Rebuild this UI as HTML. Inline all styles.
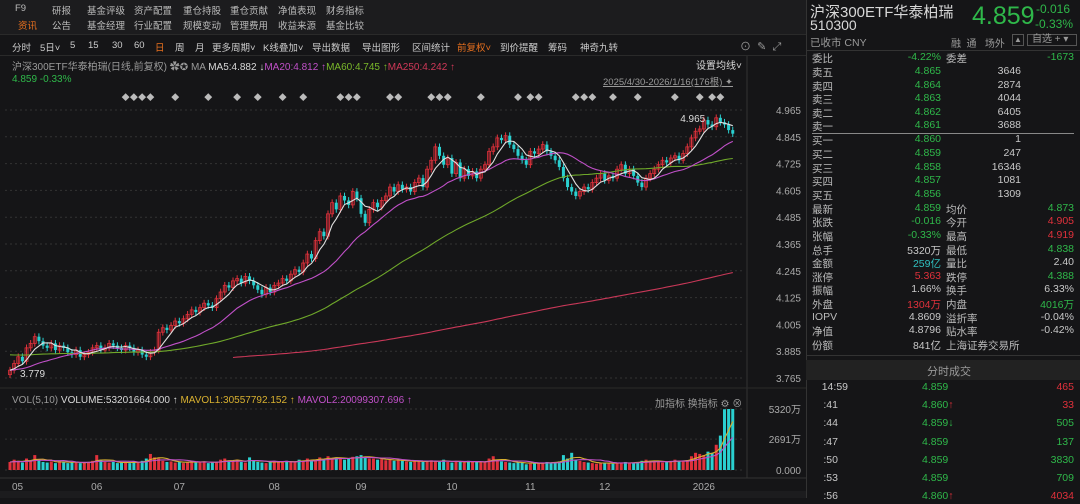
<!DOCTYPE html>
<html><head><meta charset="utf-8">
<style>
*{margin:0;padding:0;box-sizing:border-box}
body{width:1080px;height:498px;background:#151517;overflow:hidden;position:relative;font-family:"Liberation Sans","Noto Sans CJK SC",sans-serif;color:#c8c8c8;font-size:10px}
.a{position:absolute;white-space:nowrap}
.g{color:#2fb84a}.r{color:#e0313b}.w{color:#d8d8d8}.gr{color:#9a9a9a}.o{color:#e8701e}
.row{position:absolute;left:812px;width:262px;height:14px;font-size:10.5px}
.row span{position:absolute}
.m{position:absolute;font-size:9.5px;color:#bbb;white-space:nowrap}
</style></head><body>
<div class="a" style="left:0;top:0;width:806px;height:34px;background:#1c1c1e"></div>
<div id="menus"></div>
<div class="a" style="left:0;top:34px;width:806px;height:1px;background:#2a2a2a"></div>
<div id="toolbar"></div>
<div class="a gr" style="left:740px;top:38px;font-size:11px">⊙&nbsp; ✎&nbsp; ⤢</div>
<div class="a" style="left:0;top:55px;width:806px;height:1px;background:#2a2a2a"></div>
<div class="a" style="left:12px;top:58px;font-size:10px"><span class="gr">沪深300ETF华泰柏瑞(日线,前复权)</span> <span class="gr">✿✪ MA</span> <span class="w">MA5:4.882 ↓</span><span style="color:#c050c8">MA20:4.812 ↑</span><span style="color:#7ab82a">MA60:4.745 ↑</span><span style="color:#d03858">MA250:4.242 ↑</span></div>
<div class="a w" style="left:696px;top:57px;font-size:10px">设置均线˅</div>
<div class="a g" style="left:12px;top:74px;font-size:10px">4.859 -0.33%</div>
<div class="a gr" style="left:603px;top:74px;font-size:9.5px;text-decoration:underline">2025/4/30-2026/1/16(176根) ✦</div>

<svg class="a" id="chart" style="left:0;top:0" width="806" height="498"></svg>

<div class="a" style="left:12px;top:395px;font-size:10px"><span class="gr">VOL(5,10)</span> <span class="w">VOLUME:53201664.000 ↑</span> <span style="color:#d8b030">MAVOL1:30557792.152 ↑</span> <span style="color:#c050c8">MAVOL2:20099307.696 ↑</span></div>
<div class="a gr" style="left:655px;top:395px;font-size:10px">加指标 换指标 ⚙ ⊗</div>
<div class="a" style="left:0;top:491px;width:806px;height:7px;background:#1c1c1e"></div>

<!-- right panel -->
<div class="a" style="left:806px;top:0;width:1px;height:498px;background:#333"></div>
<div class="a w" style="left:810px;top:1px;font-size:15px">沪深300ETF华泰柏瑞</div>
<div class="a w" style="left:810px;top:17px;font-size:14px">510300</div>
<div class="a gr" style="left:810px;top:35px;font-size:10.5px">已收市 CNY</div>
<div class="a g" style="left:972px;top:2px;font-size:25px">4.859</div>
<div class="a g" style="left:1036px;top:2px;font-size:12px">-0.016</div>
<div class="a g" style="left:1035px;top:17px;font-size:12px">-0.33%</div>
<div class="a gr" style="left:951px;top:35px;font-size:10px">融&nbsp; 通&nbsp;&nbsp; 场外</div>
<div class="a gr" style="left:1012px;top:34px;width:12px;height:12px;border:1px solid #555;font-size:8px;text-align:center">▲</div>
<div class="a gr" style="left:1027px;top:34px;width:50px;height:12px;border:1px solid #555;font-size:10px;line-height:10px;padding-left:4px">自选 + ▾</div>
<div class="a" style="left:806px;top:50px;width:274px;height:1px;background:#333"></div>
<div class="a" style="left:812px;top:133px;width:262px;height:1px;background:#888"></div>
<div class="a" style="left:806px;top:355px;width:274px;height:1px;background:#333"></div>
<div class="a" style="left:806px;top:360px;width:274px;height:20px;background:#222"></div>
<div class="a gr" style="left:927px;top:363px;font-size:11px">分时成交</div>
<div id="quote"></div>
<script>
// ---------- menus ----------
const menu1=[["F9",15],["研报",52],["基金评级",87],["资产配置",134],["重仓持股",183],["重仓贡献",230],["净值表现",278],["财务指标",326]];
const menu2=[["资讯",18],["公告",52],["基金经理",87],["行业配置",134],["规模变动",183],["管理费用",230],["收益来源",278],["基金比较",326]];
const mEl=document.getElementById('menus');
function addM(list,top){list.forEach((m,k)=>{const d=document.createElement('div');d.className='m';d.style.left=m[1]+'px';d.style.top=top+'px';d.textContent=m[0];
  if(m[0]=="资讯")d.style.color="#e8701e";
  
  
  mEl.appendChild(d);});}
addM(menu1,3);addM(menu2,18);
const tools=[["分时",12],["5日˅",40],["5",70],["15",88],["30",112],["60",134],["日",155],["周",175],["月",195],["更多周期˅",212],["K线叠加˅",263],["导出数据",312],["导出图形",362],["区间统计",412],["前复权˅",457],["到价提醒",500],["筹码",548],["神奇九转",580]];
tools.forEach(t=>{const d=document.createElement('div');d.className='m';d.style.left=t[1]+'px';d.style.top='40px';d.style.color=(t[0]=="日"||t[0]=="前复权˅")?"#e8701e":"#ccc";d.textContent=t[0];
  
  
  mEl.appendChild(d);});
// ---------- quote panel ----------
const quoteRows=[
["委比","-4.22%","g","委差","-1673","g",58],
["卖五","4.865","g","3646","","",72],["卖四","4.864","g","2874","","",86],["卖三","4.863","g","4044","","",99],
["卖二","4.862","g","6405","","",113],["卖一","4.861","g","3688","","",126],
["买一","4.860","g","1","","",140],["买二","4.859","g","247","","",154],["买三","4.858","g","16346","","",168],
["买四","4.857","g","1081","","",181],["买五","4.856","g","1309","","",195],
["最新","4.859","g","均价","4.873","g",209],["张跌","-0.016","g","今开","4.905","r",222],
["张幅","-0.33%","g","最高","4.919","r",236],["总手","5320万","w","最低","4.838","g",250],
["金额","259亿","c","量比","2.40","w",263],["涨停","5.363","r","跌停","4.388","g",277],
["振幅","1.66%","w","换手","6.33%","w",290],["外盘","1304万","r","内盘","4016万","g",304],
["IOPV","4.8609","w","溢折率","-0.04%","w",318],["净值","4.8796","w","贴水率","-0.42%","w",331],
["份额","841亿","w","上海证券交易所","","",345]];
const q=document.getElementById('quote');
const col=c=>c==="g"?"#2fb84a":c==="r"?"#e0313b":c==="c"?"#30c0c0":"#c8c8c8";
quoteRows.forEach(r=>{
  const d=document.createElement('div');d.className='row';d.style.top=(r[6]-7)+'px';
  
  
  let h=`<span style="left:0;color:#bbb">${r[0]}</span><span style="right:133px;color:${col(r[2])}">${r[1]}</span>`;
  if(r[5]) h+=`<span style="left:134px;color:#bbb">${r[3]}</span><span style="right:0;color:${col(r[5])}">${r[4]}</span>`;
  else if(r[0].startsWith("卖")||r[0].startsWith("买")) h+=`<span style="right:53px;color:#c8c8c8">${r[3]}</span>`;
  else h+=`<span style="left:134px;color:#bbb">${r[3]}</span>`;
  d.innerHTML=h;q.appendChild(d);
});
const trades=[["14:59","4.859","","465","r"],[":41","4.860","↑","33","r"],[":44","4.859","↓","505","g"],[":47","4.859","","137","g"],[":50","4.859","","3830","g"],[":53","4.859","","709","g"],[":56","4.860","↑","4034","r"]];
trades.forEach((t,i)=>{
  const d=document.createElement('div');d.className='row';d.style.top=(381+i*18.2)+'px';
  
  
  d.innerHTML=`<span style="right:${t[0].length>3?226:236}px;color:#c8c8c8">${t[0]}</span><span style="left:110px;color:#2fb84a">${t[1]}<b style="color:${t[2]=="↑"?"#e0313b":"#2fb84a"}">${t[2]}</b></span><span style="right:0;color:${col(t[4])}">${t[3]}</span>`;
  q.appendChild(d);
});
</script>
<script>
// ---------- chart data ----------
const closes=[3.80,3.83,3.86,3.84,3.90,3.92,
3.95,3.93,3.91,3.90,3.92,3.89,3.91,3.90,
3.88,3.87,3.89,3.86,3.87,
3.88,3.90,3.91,3.89,3.90,3.92,3.91,3.90,3.89,3.91,3.90,3.88,3.89,
3.87,3.86,3.88,3.89,
3.97,3.99,3.98,4.00,4.02,4.01,4.03,
4.05,4.07,4.06,4.08,4.10,4.09,4.08,4.12,
4.15,4.18,4.17,4.20,4.21,4.19,4.22,4.20,
4.18,4.16,4.14,4.17,4.15,4.18,
4.19,4.21,4.20,4.23,4.25,4.24,
4.28,4.32,4.30,4.38,4.42,4.40,4.50,
4.55,4.52,4.58,4.56,4.54,4.60,
4.57,4.50,4.46,4.52,
4.55,4.53,4.56,4.58,4.62,4.60,
4.63,4.61,4.62,4.60,4.64,4.66,4.62,
4.70,4.74,4.80,4.76,4.72,4.75,4.68,4.73,
4.66,4.70,4.67,4.69,4.66,4.70,4.72,
4.78,4.80,4.84,4.83,4.85,4.81,
4.79,4.76,4.74,4.72,4.78,4.77,
4.79,4.81,4.78,4.76,4.74,4.71,
4.66,4.62,4.60,4.58,4.60,4.62,
4.61,4.64,4.66,4.68,4.65,4.67,4.66,
4.70,4.72,4.68,4.70,4.67,4.64,4.62,
4.66,4.68,4.70,4.72,4.74,4.73,4.75,
4.76,4.74,4.77,4.80,4.84,4.87,
4.88,4.92,4.90,4.89,4.93,4.91,4.90,4.875,4.859];
const volumes=[700,900,800,650,1000,800,1300,900,700,650,750,600,800,700,
600,650,700,600,650,700,800,1300,900,700,650,700,600,650,700,600,750,650,
800,1000,1400,1100,1000,800,700,750,650,700,600,
700,800,650,750,700,600,650,700,
900,1000,800,750,900,700,650,1100,
800,700,650,600,750,800,
700,650,800,700,750,900,
800,1000,850,900,1100,950,1200,
1000,1100,1050,900,1000,1150,
1200,1300,1100,1000,
1000,900,950,850,900,800,
850,800,750,700,800,750,700,
800,850,750,700,900,700,650,800,
700,650,800,700,750,650,700,
1000,1200,900,750,700,650,
600,700,650,500,550,600,
600,650,700,650,700,750,
1300,1000,1500,900,800,700,
650,600,550,600,650,600,550,
600,650,700,600,650,700,800,
900,800,750,700,650,700,800,
900,800,750,850,1200,1500,
1400,1300,1600,1500,2200,3000,5300,5320,5320];
const priorAvg60=3.87;
const priorAvg250=3.83;
const priceTicks=["4.965","4.845","4.725","4.605","4.485","4.365","4.245","4.125","4.005","3.885","3.765"];
const volTicks=["5320万","2691万","0.000"];
const monthLabels=["05","06","07","08","09","10","11","12","2026"];
const monthStartIdx=[0,21,41,64,85,107,126,144,168];
const maxHighIdx=171, highValue=4.965, minLowIdx=0, lowValue=3.779;

// ---------- axes ----------
const X0=10,DX=4.13;
const xOf=i=>X0+i*DX;
const yP=p=>110+(4.965-p)*268/1.2;
const yV=v=>470-v*61/5320;
const svg=document.getElementById('chart');
const NS="http://www.w3.org/2000/svg";
function mk(tag,attrs,name){const e=document.createElementNS(NS,tag);for(const k in attrs)e.setAttribute(k,attrs[k]);
  
  
  svg.appendChild(e);return e;}
priceTicks.forEach(t=>{const y=yP(+t);
  mk('line',{x1:5,x2:745,y1:y,y2:y,stroke:'#333',"stroke-dasharray":'2,3'},'price-grid-line');
  const tx=mk('text',{x:801,y:y+4,fill:'#aaa',"font-size":10,"text-anchor":'end',"font-family":'Liberation Sans'},'price-tick-label');tx.textContent=t;});
const vvals=[5320,2691,0];
volTicks.forEach((t,k)=>{const y=yV(vvals[k]);
  mk('line',{x1:5,x2:745,y1:y,y2:y,stroke:'#333',"stroke-dasharray":'2,3'},'volume-grid-line');
  const tx=mk('text',{x:801,y:y+4,fill:'#aaa',"font-size":10,"text-anchor":'end',"font-family":'Liberation Sans,Noto Sans CJK SC'},'volume-tick-label');tx.textContent=t;});
mk('line',{x1:747,x2:747,y1:56,y2:478,stroke:'#333'},'y-axis-separator');
mk('line',{x1:0,x2:806,y1:388,y2:388,stroke:'#2a2a2a'},'pane-separator');
mk('line',{x1:0,x2:806,y1:478,y2:478,stroke:'#333'},'date-axis-line');
monthLabels.forEach((m,k)=>{const t=mk('text',{x:xOf(monthStartIdx[k])+(k==0?2:0),y:490,fill:'#aaa',"font-size":10,"text-anchor":k==0?'start':'middle',"font-family":'Liberation Sans'},'month-label');t.textContent=m;});
const markerIdx=[28,30,32,34,40,48,55,60,66,71,80,82,84,92,94,102,104,106,114,123,126,128,137,139,141,146,152,161,167,170,172];
markerIdx.forEach(i=>{const t=mk('text',{x:xOf(i),y:100,fill:'#bbb',"font-size":8,"text-anchor":'middle'},'event-marker');t.textContent='◆';});
const opens=closes.map((c,i)=>i==0?3.78:closes[i-1]);
closes.forEach((c,i)=>{const o=opens[i];const up=c>=o;const colr=up?'#e0313b':'#2ad0d0';
  const hi=Math.max(o,c)+0.015,lo=Math.min(o,c)-0.015;const x=xOf(i);
  mk('line',{x1:x,x2:x,y1:yP(hi),y2:yP(lo),stroke:colr,"stroke-width":1},'candle-wick');
  const top=yP(Math.max(o,c)),h=Math.max(1,yP(Math.min(o,c))-top);
  mk('rect',{x:x-1.5,y:top,width:3,height:h,fill:up?'none':colr,stroke:colr,"stroke-width":up?0.8:0},'candle-body');
  const vy=yV(volumes[i]);
  mk('rect',{x:x-1.5,y:vy,width:3,height:470-vy,fill:up?'#e0313b':'#2ad0d0'},'volume-bar');
});
function ma(arr,n,prior,i){let s=0;for(let k=i-n+1;k<=i;k++)s+=(k>=0?arr[k]:prior);return s/n;}
function line(n,prior,colr,from,name,src,yf){let d='';for(let i=from;i<src.length;i++){d+=(i==from?'M':'L')+xOf(i).toFixed(1)+','+yf(ma(src,n,prior,i)).toFixed(1);}
  mk('path',{d:d,fill:'none',stroke:colr,"stroke-width":1.1},name);}
line(250,priorAvg250,'#c83858',54,'ma250-line',closes,yP);
line(60,priorAvg60,'#6fa82a',0,'ma60-line',closes,yP);
line(20,closes[0],'#c050c8',0,'ma20-line',closes,yP);
line(5,closes[0],'#e0e0e0',0,'ma5-line',closes,yP);
line(5,volumes[0],'#d8b030',0,'mavol1-line',volumes,yV);
line(10,volumes[0],'#c050c8',0,'mavol2-line',volumes,yV);
let t=mk('text',{x:xOf(maxHighIdx)-36,y:yP(highValue)+12,fill:'#ddd',"font-size":10,"font-family":'Liberation Sans'},'high-annotation');t.textContent=highValue.toFixed(3);
t=mk('text',{x:xOf(minLowIdx)+10,y:yP(lowValue)+2,fill:'#ddd',"font-size":10,"font-family":'Liberation Sans'},'low-annotation');t.textContent=lowValue.toFixed(3);
</script>
</body></html>
